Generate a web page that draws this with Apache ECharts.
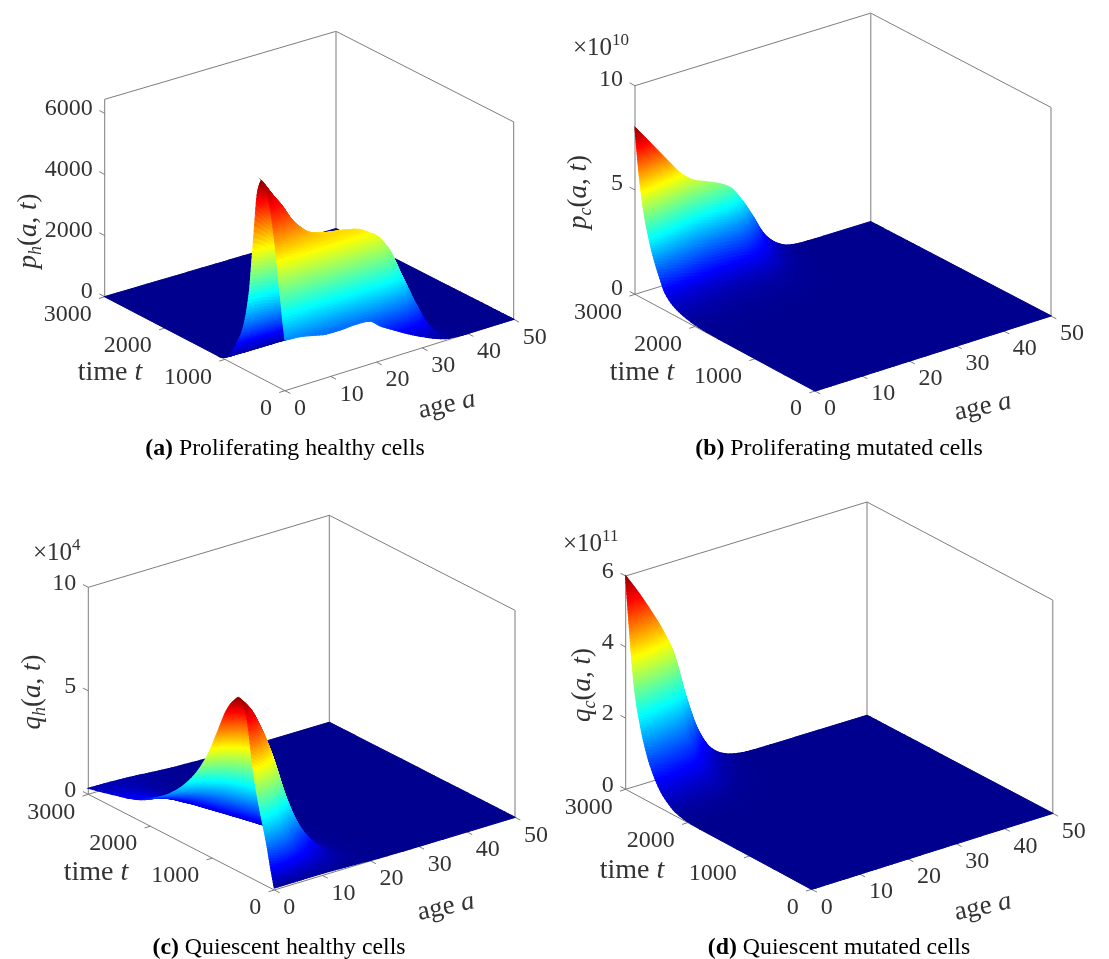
<!DOCTYPE html>
<html><head><meta charset="utf-8">
<style>html,body{margin:0;padding:0;background:#fff}#c{width:1109px;height:959px}</style>
<script src="https://cdn.jsdelivr.net/npm/echarts@6/dist/echarts.min.js"></script>
</head><body><div id="c"></div>
<script>
// ---------- tick values shared by all panels ----------
const ageTicks = [0, 10, 20, 30, 40, 50];
const timeTicks = [0, 1000, 2000, 3000];

// ---------- (a) proliferating healthy cells ----------
const ageA = [0,3,6,9,12,15,18,21,24,27,30,33,36,40,50];
const timeA = [0,15,40,70,100,130,180,250,320,383,450,533,600,700,800,900,1000,1100,3000];
const surfA = [
[1650,1620,1530,1430,1420,1450,1440,1130,860,600,370,170,40,0,0],
[1900,1850,1800,1750,1780,1850,1900,1750,1450,1000,560,240,50,0,0],
[2300,2320,2350,2400,2420,2450,2480,2500,2300,1500,800,320,60,0,0],
[2900,2950,3000,3100,3150,3200,3250,3300,3000,2050,1120,400,60,0,0],
[3400,3500,3600,3700,3780,3820,3850,3800,3350,2350,1300,450,60,0,0],
[4000,4050,4080,4120,4150,4170,4180,4000,3450,2400,1300,430,50,0,0],
[4850,4700,4500,4400,4320,4290,4240,3980,3400,2300,1200,380,40,0,0],
[5760,5400,4880,4480,4320,4270,4180,3880,3250,2150,1100,320,30,0,0],
[6250,5680,4900,4450,4280,4180,4050,3700,3050,2000,1000,270,20,0,0],
[6460,5700,4850,4380,4180,4040,3880,3520,2850,1850,900,230,15,0,0],
[6100,5400,4600,4150,3950,3800,3650,3280,2600,1680,800,190,10,0,0],
[4150,3900,3500,3300,3150,3100,3000,2700,2150,1350,620,140,5,0,0],
[2500,2450,2300,2250,2200,2150,2100,1900,1500,950,420,90,0,0,0],
[1300,1280,1250,1200,1180,1150,1100,1000,780,480,200,40,0,0,0],
[740,720,690,660,640,620,590,520,400,240,90,15,0,0,0],
[300,290,280,270,260,250,230,200,150,85,30,5,0,0,0],
[60,55,50,50,45,45,40,35,25,15,5,0,0,0,0],
[0,0,0,0,0,0,0,0,0,0,0,0,0,0,0],
[0,0,0,0,0,0,0,0,0,0,0,0,0,0,0]];
const zTicksA = [0,2000,4000,6000];

// ---------- (b) proliferating mutated cells (x 10^10) ----------
const ageB = [0,2.5,5,7.5,10,12.5,15,17.5,20,22.5,25,27.5,30,32.5,35,40,50];
const timeB = [0,1500,1800,2000,2200,2300,2400,2500,2600,2700,2800,2850,2900,2950,3000];
const surfB = [
[0,0,0,0,0,0,0,0,0,0,0,0,0,0,0,0,0],
[.008,.007,.006,.006,.005,.005,.004,.004,.004,.003,.002,.001,0,0,0,0,0],
[.032,.029,.026,.023,.02,.018,.017,.016,.015,.012,.008,.004,.002,0,0,0,0],
[.08,.07,.065,.058,.05,.046,.044,.041,.038,.03,.02,.01,.004,.001,0,0,0],
[.22,.2,.18,.16,.14,.13,.12,.11,.105,.084,.056,.027,.01,.003,0,0,0],
[.34,.3,.27,.24,.21,.19,.18,.17,.16,.13,.08,.04,.016,.004,.001,0,0],
[.52,.47,.42,.37,.33,.3,.28,.27,.24,.2,.13,.06,.025,.006,.001,0,0],
[.84,.76,.68,.6,.53,.48,.46,.43,.39,.32,.21,.1,.04,.01,.002,0,0],
[1.52,1.38,1.24,1.09,.96,.87,.83,.78,.71,.57,.38,.18,.07,.02,.004,0,0],
[2.32,2.1,1.89,1.67,1.46,1.33,1.26,1.19,1.09,.87,.58,.28,.11,.03,.006,0,0],
[3.44,3.12,2.8,2.47,2.17,1.98,1.87,1.76,1.61,1.29,.86,.41,.16,.043,.009,0,0],
[4.16,3.77,3.38,2.99,2.63,2.39,2.26,2.13,1.95,1.56,1.04,.49,.2,.052,.01,0,0],
[5.12,4.64,4.16,3.68,3.23,2.94,2.78,2.62,2.4,1.92,1.28,.6,.24,.064,.013,0,0],
[6.4,5.8,5.2,4.6,4.04,3.68,3.48,3.28,3,2.4,1.6,.76,.3,.08,.016,0,0],
[8,7.25,6.5,5.75,5.05,4.6,4.35,4.1,3.75,3,2,.95,.38,.1,.02,0,0]];
const zTicksB = [0,5,10];

// ---------- (c) quiescent healthy cells (x 10^4) ----------
const ageC = [0,2,4,6,8,10,12,14,16,18,20,25,30,35,50];
const timeC = [0,60,120,170,230,290,344,445,500,564,660,768,929,1090,1311,1574,1843,2219,2600,3000];
const surfC = [
[.1,.1,.1,.1,.1,.1,.09,.08,.06,.05,.03,.01,0,0,0],
[1,.9,.72,.52,.36,.26,.18,.12,.08,.05,.03,.005,0,0,0],
[2,1.8,1.45,1.05,.72,.47,.3,.19,.11,.06,.03,.005,0,0,0],
[2.7,2.45,2.05,1.5,1.02,.68,.42,.25,.14,.07,.035,.005,0,0,0],
[3.5,3.2,2.75,2.05,1.4,.95,.58,.33,.18,.08,.04,.005,0,0,0],
[4.4,4.05,3.5,2.7,1.85,1.25,.78,.42,.21,.09,.04,.004,0,0,0],
[5.4,5,4.4,3.6,2.6,1.7,1.05,.55,.26,.1,.04,.003,0,0,0],
[7.7,7.05,6.1,4.9,3.3,2,1.15,.58,.26,.1,.04,.002,0,0,0],
[8.2,7.6,6.6,5.3,3.5,2.05,1.15,.58,.25,.1,.04,.002,0,0,0],
[8.4,7.8,6.85,5.5,3.55,2.05,1.15,.57,.25,.1,.04,.001,0,0,0],
[8.1,7.5,6.6,5.3,3.4,1.95,1.1,.55,.24,.09,.035,.001,0,0,0],
[7.5,6.95,6.1,4.9,3.15,1.8,1,.5,.22,.08,.03,.001,0,0,0],
[6.1,5.65,5,4,2.55,1.45,.8,.4,.17,.065,.025,0,0,0,0],
[4.75,4.4,3.9,3.1,2,1.15,.63,.32,.14,.05,.02,0,0,0,0],
[3.45,3.2,2.8,2.25,1.45,.83,.46,.23,.1,.04,.015,0,0,0,0],
[2.4,2.2,1.95,1.55,1,.58,.32,.16,.07,.03,.01,0,0,0,0],
[1.66,1.55,1.35,1.08,.7,.4,.22,.11,.05,.02,.007,0,0,0,0],
[.95,.88,.77,.62,.4,.23,.13,.065,.03,.012,.004,0,0,0,0],
[.6,.56,.49,.39,.25,.15,.08,.04,.02,.008,.003,0,0,0,0],
[.29,.28,.27,.25,.23,.2,.16,.12,.09,.06,.05,.01,0,0,0]];
const zTicksC = [0,5,10];

// ---------- (d) quiescent mutated cells (x 10^11) ----------
const ageD = [0,2.5,5,7.5,10,12.5,15,17.5,20,22.5,25,27.5,30,35,40,50];
const timeD = [0,1800,2000,2200,2300,2400,2500,2600,2700,2800,2850,2900,2950,3000];
const surfD = [
[0,0,0,0,0,0,0,0,0,0,0,0,0,0,0,0],
[.006,.005,.005,.004,.003,.002,.001,0,0,0,0,0,0,0,0,0],
[.024,.022,.019,.017,.014,.008,.004,.002,.001,0,0,0,0,0,0,0],
[.11,.1,.09,.076,.06,.04,.019,.008,.003,.001,0,0,0,0,0,0],
[.23,.21,.18,.16,.13,.08,.04,.017,.007,.002,.001,0,0,0,0,0],
[.39,.35,.32,.27,.22,.14,.07,.03,.012,.004,.001,0,0,0,0,0],
[.65,.59,.52,.45,.37,.23,.11,.05,.02,.006,.002,0,0,0,0,0],
[1.02,.93,.82,.71,.58,.36,.18,.077,.03,.01,.003,0,0,0,0,0],
[1.56,1.42,1.26,1.09,.88,.55,.27,.12,.047,.016,.004,.001,0,0,0,0],
[2.34,2.13,1.89,1.64,1.33,.82,.41,.18,.07,.023,.006,.001,0,0,0,0],
[2.88,2.62,2.33,2.02,1.63,1.01,.5,.22,.086,.029,.007,.001,0,0,0,0],
[3.72,3.38,3,2.6,2.11,1.3,.65,.28,.11,.037,.009,.002,0,0,0,0],
[4.8,4.36,3.88,3.36,2.72,1.68,.84,.36,.144,.048,.012,.002,0,0,0,0],
[6,5.45,4.85,4.2,3.4,2.1,1.05,.45,.18,.06,.015,.003,0,0,0,0]];
const zTicksD = [0,2,4,6];

// ---------- panel layout: view box of the projected 3D axes (styling, not data) ----------
const panels = [
 {age:ageA,time:timeA,surf:surfA,zTicks:zTicksA,zTop:6460,
  F:[285,390.7],R:[513.7,319.3],L:[104.7,296.7],B:[336,228.7],H:197.4,zOff:-5,
  zName:['p','h'],zNamePos:[29,231],mult:null,timePos:[110,373],agePos:[447,405],
  caption:['(a)','Proliferating healthy cells'],capPos:[285,437],thick:'back'},
 {age:ageB,time:timeB,surf:surfB,zTicks:zTicksB,zTop:10,
  F:[815,391],R:[1051,316],L:[635,294.3],B:[870.7,221.7],H:208.6,zOff:-6,
  zName:['p','c'],zNamePos:[579,192],mult:['10','10',573,48],timePos:[642,373],agePos:[983,407],
  caption:['(b)','Proliferating mutated cells'],capPos:[839,437],thick:'back'},
 {age:ageC,time:timeC,surf:surfC,zTicks:zTicksC,zTop:10,
  F:[274.3,890],R:[515,817.3],L:[88.3,794.3],B:[329.3,722.3],H:207,zOff:-4,
  zName:['q','h'],zNamePos:[33,692],mult:['10','4',33,553],timePos:[96,873],agePos:[446,907],
  caption:['(c)','Quiescent healthy cells'],capPos:[279,936],thick:'right'},
 {age:ageD,time:timeD,surf:surfD,zTicks:zTicksD,zTop:6,
  F:[811.7,889.3],R:[1052.7,813.3],L:[625.7,789.3],B:[867,715.3],H:213.3,zOff:-4,
  zName:['q','c'],zNamePos:[583,685],mult:['10','11',563,544],timePos:[632,871],agePos:[983,907],
  caption:['(d)','Quiescent mutated cells'],capPos:[839,936],thick:'right'}
];

const SERIF = '"Liberation Serif","Times New Roman",serif';
const INK = '#333333', LINE = '#6e6e6e';
const TICK = 24, NAME = 27, CAPTION = 23.8;

function project(p, a, t, z) {
  const u = a / 50, v = t / 3000;
  const x = (1-u)*(1-v)*p.F[0] + u*(1-v)*p.R[0] + (1-u)*v*p.L[0] + u*v*p.B[0];
  const y = (1-u)*(1-v)*p.F[1] + u*(1-v)*p.R[1] + (1-u)*v*p.L[1] + u*v*p.B[1];
  return [x, y - z / p.zTop * p.H];
}
function jet(v0) {
  const v = v0 * 0.97 + 0.015;
  const c = w => Math.round(255 * Math.max(0, Math.min(1, w)));
  return `rgb(${c(1.5-Math.abs(4*v-3))},${c(1.5-Math.abs(4*v-2))},${c(1.5-Math.abs(4*v-1))})`;
}
// Shape-preserving cubic through the read values (the surface's interpolated shading).
function slope(xs, ys, k) {
  const n = xs.length;
  if (k === 0) return (ys[1]-ys[0])/(xs[1]-xs[0]);
  if (k === n-1) return (ys[n-1]-ys[n-2])/(xs[n-1]-xs[n-2]);
  const d0 = (ys[k]-ys[k-1])/(xs[k]-xs[k-1]), d1 = (ys[k+1]-ys[k])/(xs[k+1]-xs[k]);
  return d0*d1 <= 0 ? 0 : 2*d0*d1/(d0+d1);
}
function hermite(xs, ys, k, s) {
  const h = xs[k+1]-xs[k], m0 = slope(xs,ys,k)*h, m1 = slope(xs,ys,k+1)*h;
  const s2 = s*s, s3 = s2*s;
  return (2*s3-3*s2+1)*ys[k] + (s3-2*s2+s)*m0 + (-2*s3+3*s2)*ys[k+1] + (s3-s2)*m1;
}

const grids = [], xAxes = [], yAxes = [], series = [], titles = [];
panels.forEach((p, pi) => {
  grids.push({left:0, top:0, width:1109, height:959});
  xAxes.push({gridIndex:pi, type:'value', min:0, max:1109, show:false});
  yAxes.push({gridIndex:pi, type:'value', min:0, max:959, inverse:true, show:false});
  const zMax = Math.max(...p.surf.map(r => Math.max(...r)));

  // ---- box, axis lines and tick marks ----
  const up = q => [q[0], q[1] - p.H];
  const thinVert = p.thick === 'back' ? [p.R, up(p.R)] : [p.B, up(p.B)];
  const thickVert = p.thick === 'back' ? [p.B, up(p.B)] : [p.R, up(p.R)];
  const segs = [
    [p.L, up(p.L)], [up(p.L), up(p.B)], [up(p.B), up(p.R)], thinVert,
    [p.L, p.B], [p.B, p.R], [p.F, p.R], [p.F, p.L]
  ];
  const len = (d, n) => { const m = Math.hypot(d[0], d[1]); return [d[0]/m*n, d[1]/m*n]; };
  const aOut = len([p.F[0]-p.L[0], p.F[1]-p.L[1]], 6);
  const tOut = len([p.F[0]-p.R[0], p.F[1]-p.R[1]], 6);
  const zOut = len([p.L[0]-p.F[0], p.L[1]-p.F[1]], 6);
  ageTicks.forEach(a => { const q = project(p,a,0,0); segs.push([q,[q[0]+aOut[0],q[1]+aOut[1]]]); });
  timeTicks.forEach(t => { const q = project(p,0,t,0); segs.push([q,[q[0]+tOut[0],q[1]+tOut[1]]]); });
  p.zTicks.forEach(z => { const q = project(p,0,3000,z); segs.push([q,[q[0]+zOut[0],q[1]+zOut[1]]]); });
  series.push({
    type:'custom', xAxisIndex:pi, yAxisIndex:pi, silent:true, animation:false, z:1, clip:false,
    data:[0],
    renderItem:(params, api) => {
      const ln = (s, w, col) => ({type:'line', silent:true,
        shape:{x1:api.coord(s[0])[0],y1:api.coord(s[0])[1],x2:api.coord(s[1])[0],y2:api.coord(s[1])[1]},
        style:{stroke:col,lineWidth:w,fill:null}});
      return {type:'group', children:[...segs.map(s => ln(s,0.9,LINE)), ln(thickVert,1.5,'#a6a6a6')]};
    }
  });

  // ---- surface, painted far to near ----
  const cells = [];
  for (let j = p.time.length-2; j >= 0; j--)
    for (let i = p.age.length-2; i >= 0; i--) cells.push([i, j]);
  series.push({
    type:'custom', xAxisIndex:pi, yAxisIndex:pi, silent:true, animation:false, z:2, clip:false,
    data:cells, progressive:0,
    renderItem:(params, api) => {
      const i = api.value(0), j = api.value(1);
      const a0=p.age[i], a1=p.age[i+1], t0=p.time[j], t1=p.time[j+1];
      const z00=p.surf[j][i], z10=p.surf[j][i+1], z01=p.surf[j+1][i], z11=p.surf[j+1][i+1];
      const spread = Math.max(z00,z10,z01,z11) - Math.min(z00,z10,z01,z11);
      const n = spread === 0 ? 1 : Math.min(12, Math.max(3, Math.ceil(spread/p.zTop*p.H/3)));
      const lo = Math.max(0, j-1), hi = Math.min(p.time.length-1, j+2);
      const ts = p.time.slice(lo, hi+1);
      const verts = [];
      for (let b = 0; b <= n; b++) {
        const row = [];
        for (let c = 0; c <= n; c++) {
          const zs = [];
          for (let r = lo; r <= hi; r++) zs.push(hermite(p.age, p.surf[r], i, c/n));
          const z = Math.max(0, hermite(ts, zs, j-lo, b/n));
          row.push({z, c: api.coord(project(p, a0+(a1-a0)*c/n, t0+(t1-t0)*b/n, z))});
        }
        verts.push(row);
      }
      const kids = [];
      for (let b = n-1; b >= 0; b--) for (let c = n-1; c >= 0; c--) {
        const A=verts[b][c], B=verts[b][c+1], C=verts[b+1][c+1], D=verts[b+1][c];
        const col = jet(((A.z+B.z+C.z+D.z)/4)/zMax);
        kids.push({type:'polygon', silent:true, shape:{points:[A.c,B.c,C.c,D.c]},
          style:{fill:col, stroke:col, lineWidth:1.1}});
      }
      return {type:'group', children:kids};
    }
  });

  // ---- text ----
  const labels = [];
  ageTicks.forEach(a => { const q = project(p,a,0,0);
    labels.push({text:String(a), x:q[0]+9, y:q[1]+18, align:'left', size:TICK}); });
  timeTicks.forEach(t => { const q = project(p,0,t,0);
    labels.push({text:String(t), x:q[0]-13, y:q[1]+18, align:'right', size:TICK}); });
  p.zTicks.forEach(z => { const q = project(p,0,3000,z);
    labels.push({text:String(z), x:q[0]-12, y:q[1]+p.zOff, align:'right', size:TICK}); });
  const rich = {
    i:{fontFamily:SERIF,fontStyle:'italic',fontSize:NAME,fill:INK,color:INK,lineHeight:32},
    r:{fontFamily:SERIF,fontSize:NAME,fill:INK,color:INK,lineHeight:32},
    s:{fontFamily:SERIF,fontStyle:'italic',fontSize:18,fill:INK,color:INK,lineHeight:32,verticalAlign:'bottom'},
    u:{fontFamily:SERIF,fontSize:17,fill:INK,color:INK,lineHeight:32,verticalAlign:'top'},
    m:{fontFamily:SERIF,fontSize:25,fill:INK,color:INK,lineHeight:32},
    ti:{fontFamily:SERIF,fontStyle:'italic',fontSize:28,fill:INK,color:INK,lineHeight:32},
    tr:{fontFamily:SERIF,fontSize:28,fill:INK,color:INK,lineHeight:32}
  };
  labels.push({text:`{i|${p.zName[0]}}{s|${p.zName[1]}}{r|(}{i|a}{r|, }{i|t}{r|)}`, x:p.zNamePos[0], y:p.zNamePos[1], align:'center', rot:Math.PI/2, rich});
  labels.push({text:'{tr|time }{ti|t}', x:p.timePos[0], y:p.timePos[1], align:'center', rich});
  labels.push({text:'{r|age }{i|a}', x:p.agePos[0], y:p.agePos[1], align:'center', rot:12*Math.PI/180, rich});
  if (p.mult) labels.push({text:`{m|\u00d7${p.mult[0]}}{u|${p.mult[1]}}`, x:p.mult[2], y:p.mult[3], align:'left', rich});
  series.push({
    type:'custom', xAxisIndex:pi, yAxisIndex:pi, silent:true, animation:false, z:3, clip:false,
    data:labels.map((_, k) => k),
    renderItem:(params, api) => {
      const L = labels[api.value(0)];
      const c = api.coord([L.x, L.y]);
      return {type:'text', silent:true, x:c[0], y:c[1], rotation:L.rot||0, originX:0, originY:0,
        style:{text:L.text, textAlign:L.align, textVerticalAlign:'middle', verticalAlign:'middle',
          font:`${L.size||TICK}px ${SERIF}`, fill:INK, rich:L.rich}};
    }
  });

  // ---- caption ----
  titles.push({
    text:`{b|${p.caption[0]}} {n|${p.caption[1]}}`,
    left:p.capPos[0], top:p.capPos[1], textAlign:'center', padding:0,
    textStyle:{fontWeight:'normal',fontSize:CAPTION,fontFamily:SERIF,rich:{
      b:{fontFamily:SERIF,fontWeight:'bold',fontSize:CAPTION,color:'#000'},
      n:{fontFamily:SERIF,fontWeight:'normal',fontSize:CAPTION,color:'#000'}}}
  });
});

const chart = echarts.init(document.getElementById('c'), null, {renderer:'canvas'});
chart.setOption({animation:false, backgroundColor:'#fff', title:titles, grid:grids, xAxis:xAxes, yAxis:yAxes, series});
</script></body></html>
